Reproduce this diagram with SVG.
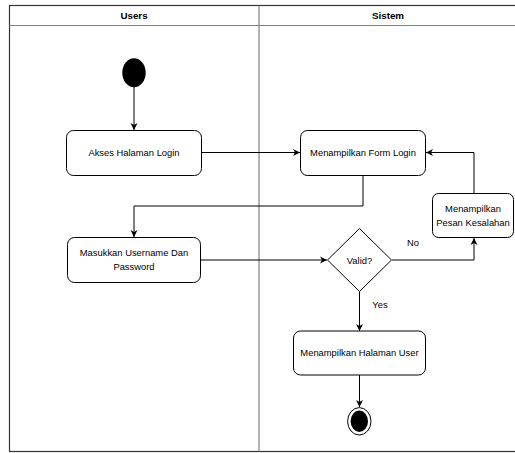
<svg xmlns="http://www.w3.org/2000/svg" width="515" height="453" viewBox="0 0 515 453">
<style>
  text { font-family: "Liberation Sans", Arial, sans-serif; font-size: 9.4px; fill: #000; }
  .hdr { font-weight: bold; font-size: 9.8px; }
  .box { fill: #fff; stroke: #000; stroke-width: 1; }
  .conn { fill: none; stroke: #000; stroke-width: 1; }
  .lane { fill: none; stroke: #808080; stroke-width: 1.2; }
</style>
<defs>
  <marker id="arr" markerWidth="8" markerHeight="8" refX="7" refY="4" orient="auto" markerUnits="userSpaceOnUse">
    <path d="M0,0.5 L7,4 L0,7.5 L2,4 Z" fill="#000"/>
  </marker>
</defs>
<rect x="0" y="0" width="515" height="453" fill="#fff"/>
<g id="pool">
  <rect x="9.5" y="5.5" width="520" height="446" fill="none" stroke="#333" stroke-width="1.2"/>
  <line class="lane" x1="9.5" y1="25.5" x2="515" y2="25.5"/>
  <line class="lane" x1="259" y1="5.5" x2="259" y2="451.5"/>
  <text class="hdr" x="134" y="19" text-anchor="middle">Users</text>
  <text class="hdr" x="388" y="19" text-anchor="middle">Sistem</text>
</g>
<g id="connectors">
  <line class="conn" x1="134" y1="87" x2="134" y2="130" marker-end="url(#arr)"/>
  <line class="conn" x1="202" y1="152.5" x2="300" y2="152.5" marker-end="url(#arr)"/>
  <polyline class="conn" points="363,175 363,206 134,206 134,237" marker-end="url(#arr)"/>
  <line class="conn" x1="200" y1="260" x2="327" y2="260" marker-end="url(#arr)"/>
  <polyline class="conn" points="392,260 474,260 474,238" marker-end="url(#arr)"/>
  <polyline class="conn" points="474,194 474,152.5 426,152.5" marker-end="url(#arr)"/>
  <line class="conn" x1="359.5" y1="292" x2="359.5" y2="331" marker-end="url(#arr)"/>
  <line class="conn" x1="359.5" y1="375" x2="359.5" y2="407" marker-end="url(#arr)"/>
  <text x="413" y="246" text-anchor="middle">No</text>
  <text x="380" y="308" text-anchor="middle">Yes</text>
</g>
<g id="start">
  <ellipse cx="134" cy="72.8" rx="11.7" ry="14.5" fill="#000"/>
</g>
<g id="akses">
  <rect class="box" x="66.5" y="130.5" width="135" height="45" rx="7"/>
  <text x="134" y="156" text-anchor="middle">Akses Halaman Login</text>
</g>
<g id="form">
  <rect class="box" x="300.5" y="130.5" width="125" height="45" rx="7"/>
  <text x="363" y="156" text-anchor="middle">Menampilkan Form Login</text>
</g>
<g id="masukkan">
  <rect class="box" x="67.5" y="237.5" width="133" height="45" rx="7"/>
  <text x="134" y="256" text-anchor="middle">Masukkan Username Dan</text>
  <text x="134" y="270" text-anchor="middle">Password</text>
</g>
<g id="pesan">
  <rect class="box" x="432.5" y="193.5" width="81" height="44" rx="6"/>
  <text x="473" y="212" text-anchor="middle">Menampilkan</text>
  <text x="473" y="226" text-anchor="middle">Pesan Kesalahan</text>
</g>
<g id="valid">
  <polygon class="box" points="359.5,228.5 391.5,260 359.5,291.5 327.5,260"/>
  <text x="359.5" y="264" text-anchor="middle">Valid?</text>
</g>
<g id="halaman">
  <rect class="box" x="293.5" y="331" width="132" height="44" rx="7"/>
  <text x="359.5" y="356" text-anchor="middle">Menampilkan Halaman User</text>
</g>
<g id="end">
  <ellipse cx="359.3" cy="421.3" rx="11.7" ry="13.7" fill="#fff" stroke="#000" stroke-width="1"/>
  <ellipse cx="359.3" cy="421.3" rx="8.7" ry="10.7" fill="#000"/>
</g>
</svg>
